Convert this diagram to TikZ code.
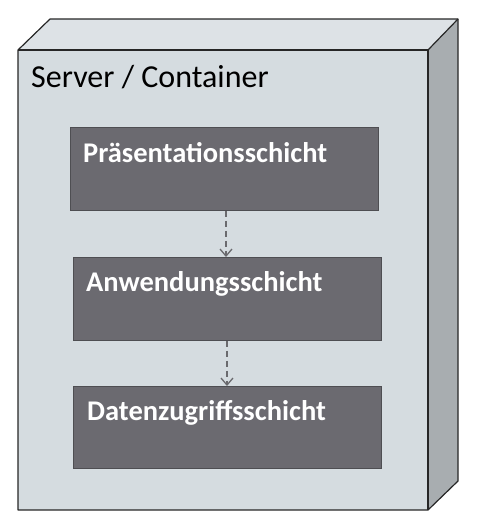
\documentclass[tikz,border=0pt]{standalone}
\usepackage{fontspec}
\setmainfont{Carlito}
\usetikzlibrary{arrows.meta}
\definecolor{frontc}{HTML}{D5DCE0}
\definecolor{topc}{HTML}{DDE2E6}
\definecolor{sidec}{HTML}{A8ADB0}
\definecolor{boxc}{HTML}{6B6A70}
\definecolor{boxline}{HTML}{4E4E52}
\definecolor{arrc}{HTML}{6A6A6E}
\tikzset{
  layerbox/.style={draw=boxline, line width=0.8pt, fill=boxc, anchor=north west, inner sep=0pt},
  layertext/.style={anchor=base west, text=white, font=\bfseries\fontsize{28.5}{33}\selectfont, inner sep=0pt},
  dep/.style={draw=arrc, line width=1.3pt, dash pattern=on 6pt off 4pt, -{Straight Barb[length=7pt,width=12pt,line width=1.3pt]}},
  face/.style={draw=black!85, line width=1.2pt, line join=round}
}
\begin{document}
\begin{tikzpicture}[x=1pt,y=-1pt]
\useasboundingbox (0,0) rectangle (478,528);
% 3D node shape
\coordinate (ftl) at (18,50);
\coordinate (ftr) at (428,50);
\coordinate (fbr) at (428,510);
\coordinate (fbl) at (18,510);
\coordinate (btl) at (50,19);
\coordinate (btr) at (458,19);
\coordinate (bbr) at (458,481);
\fill[topc] (ftl) -- (btl) -- (btr) -- (ftr) -- cycle;
\fill[sidec] (ftr) -- (btr) -- (bbr) -- (fbr) -- cycle;
\fill[frontc] (ftl) rectangle (fbr);
\draw[face] (fbl) -- (ftl) -- (btl) -- (btr) -- (bbr) -- (fbr) -- cycle;
\draw[face] (ftl) -- (ftr) -- (fbr);
\draw[face] (ftr) -- (btr);
\node[anchor=base west, inner sep=0pt, font=\fontsize{32}{38}\selectfont] (title) at (31,87) {Server / Container};
% layers
\node[layerbox, minimum width=308pt, minimum height=83pt] (p) at (70,127) {};
\node[layerbox, minimum width=308pt, minimum height=83pt] (a) at (73,257) {};
\node[layerbox, minimum width=308pt, minimum height=82pt] (d) at (73,386) {};
\node[layertext] (pt) at (83,162) {Präsentationsschicht};
\node[layertext] (at) at (86,291) {Anwendungsschicht};
\node[layertext] (dt) at (87,420) {Datenzugriffsschicht};
\draw[dep] (p.south -| 226,0) -- (a.north -| 226,0);
\draw[dep] (a.south -| 227,0) -- (d.north -| 227,0);
\end{tikzpicture}
\end{document}
